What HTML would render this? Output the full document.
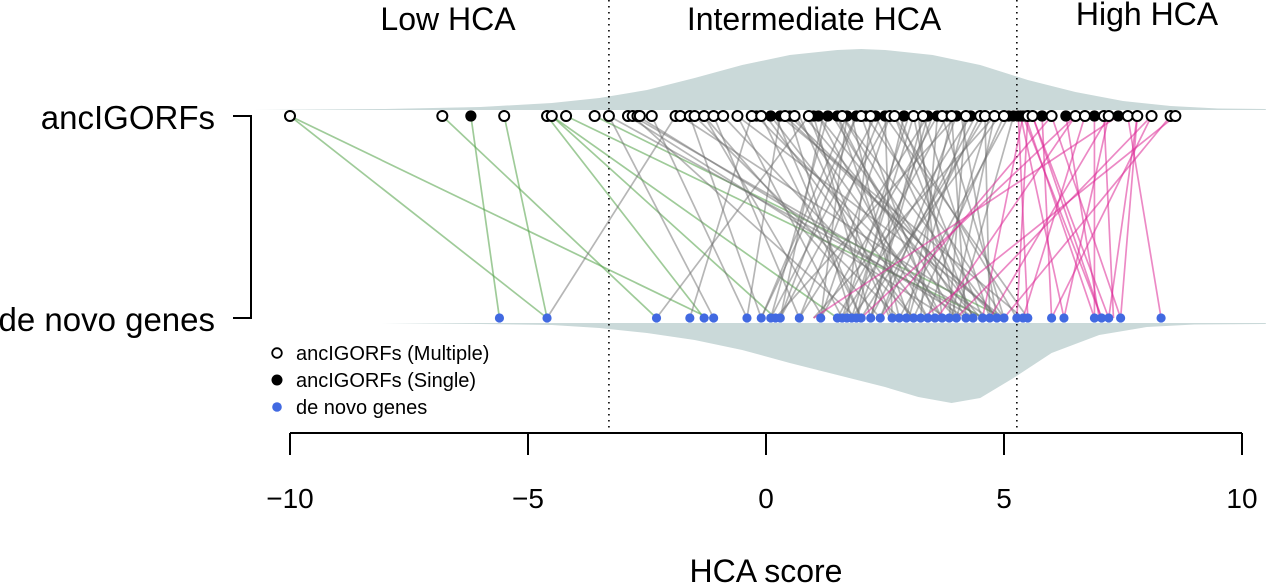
<!DOCTYPE html>
<html><head><meta charset="utf-8">
<style>
html,body{margin:0;padding:0;background:#fff;}
svg{display:block;font-family:"Liberation Sans",Arial,sans-serif;}
</style></head>
<body>
<svg id="chart" width="1280" height="585" viewBox="0 0 1280 585">
<g id="dens"></g>
<g id="links"></g>
<g id="pts"></g>
<g id="axis"></g>
<text x="448" y="30" font-size="32" text-anchor="middle">Low HCA</text>
<text x="814" y="30" font-size="32" text-anchor="middle">Intermediate HCA</text>
<text x="1147" y="25" font-size="32" text-anchor="middle">High HCA</text>
<text x="215" y="129" font-size="33" text-anchor="end">ancIGORFs</text>
<text x="215" y="331" font-size="33" text-anchor="end">de novo genes</text>
<path d="M233,116 H251 V318 H233" fill="none" stroke="#000" stroke-width="2"/>
<g>
<circle cx="277" cy="353" r="4.8" fill="#fff" stroke="#000" stroke-width="1.8"/>
<text x="296" y="360" font-size="20">ancIGORFs (Multiple)</text>
<circle cx="277" cy="380" r="5.5" fill="#000"/>
<text x="296" y="387" font-size="20">ancIGORFs (Single)</text>
<circle cx="277" cy="407" r="4.8" fill="#4169e1"/>
<text x="296" y="414" font-size="20">de novo genes</text>
</g>
<text x="766" y="582" font-size="32" text-anchor="middle">HCA score</text>
</svg>
<script>
const thresholds = [-3.3, 5.27];
const xTicks = [-10, -5, 0, 5, 10];
const topDensX = [-10.8,-8,-6,-4.5,-3.5,-2.5,-1.5,-0.5,0.5,1.5,2,2.5,3.5,4.5,5.5,6.5,7.5,8.5,9.5,10.5];
const topDensH = [0,1,3,7,12,20,32,45,55,60,61,60,55,45,30,18,9,4,1.5,1];
const botDensX = [-8.1,-6,-4.5,-3.5,-2.5,-1.5,-0.5,0.5,1.5,2.5,3.2,3.9,4.5,5.2,6,7,8,9,10.5];
const botDensH = [0,1,2,5,10,17,27,40,52,64,74,80,75,55,30,12,4,1.5,1];
const ancMultiple = [-10,-6.8,-5.5,-4.6,-4.5,-4.2,-3.6,-3.3,-2.9,-2.8,-2.7,-2.65,-2.4,-1.9,-1.8,-1.6,-1.5,-1.3,-1.1,-0.9,-0.6,-0.3,-0.1,0.4,0.6,0.9,1.6,2.0,2.2,2.6,2.7,3.1,3.3,3.7,3.9,4.2,4.5,4.6,4.8,5.0,5.5,5.6,6.0,6.5,6.7,7.1,7.2,7.6,7.8,8.1,8.5,8.6];
const ancSingle = [-6.2,-0.2,0.1,0.3,0.5,1.0,1.1,1.3,1.5,1.7,1.9,2.1,2.3,2.5,2.9,3.4,3.6,3.8,4.0,4.3,5.1,5.2,5.3,5.35,5.4,5.45,5.8,6.3,6.9,7.4];
const denovo = [-5.6,-4.6,-2.3,-1.6,-1.3,-1.1,-0.4,-0.1,0.1,0.2,0.3,0.7,1.15,1.5,1.6,1.7,1.8,1.9,2.0,2.2,2.4,2.65,2.8,2.95,3.1,3.25,3.4,3.55,3.7,3.85,4.0,4.2,4.35,4.55,4.7,4.85,5.0,5.27,5.4,5.5,6.0,6.26,6.9,7.05,7.2,7.45,8.3];
const linkFrom = [-10,-10,-6.8,-6.2,-5.5,-4.6,-4.5,-4.2,-3.6,-3.3,-3.3,-4.5,-2.9,-2.8,-2.7,-2.4,-1.9,-1.8,-1.6,-1.5,-1.3,-1.1,-0.9,-0.6,-0.3,-0.2,-0.1,0.1,0.3,0.4,0.5,0.6,0.9,1.0,1.1,1.3,1.5,1.6,1.7,1.9,2.0,2.1,2.2,2.3,2.5,2.6,2.7,2.9,3.1,3.3,3.4,3.6,3.7,3.8,3.9,4.0,4.2,4.3,4.5,4.6,4.8,5.0,5.1,5.2,-2.8,-1.3,0.3,0.9,1.5,2.3,3.1,3.9,4.6,-0.6,1.1,1.9,2.7,3.4,4.2,0.5,1.7,2.5,3.6,4.8,0.0,0.2,0.8,1.2,1.4,1.8,2.4,2.8,3.0,3.2,3.5,4.1,4.4,4.7,4.9,0.7,1.6,2.6,3.3,4.0,5.3,5.35,5.4,5.45,5.5,5.6,5.8,6.0,6.3,6.5,6.7,6.9,7.1,7.2,7.4,7.6,7.8,8.1,8.5,8.6,5.4,5.6,6.0,6.5,7.2,7.8,8.1];
const linkTo = [-4.6,-1.2,-2.3,-5.6,-4.6,-1.3,0.2,4.6,5.0,4.4,-1.1,1.5,3.8,1.9,4.2,-0.4,-4.6,4.7,-0.1,2.8,2.4,0.7,3.1,1.6,-1.6,4.0,2.0,3.4,-0.4,4.9,1.8,3.7,-2.3,2.2,4.5,0.1,3.0,4.85,1.15,-0.1,3.55,5.0,1.7,4.35,2.65,0.3,5.27,1.9,4.0,2.2,0.7,3.25,5.0,1.5,2.95,0.2,3.85,1.6,2.4,4.7,1.0,3.1,2.8,4.0,4.55,1.2,5.4,2.65,3.7,0.1,1.8,4.2,2.0,5.0,3.4,0.3,4.35,2.2,3.0,4.85,-0.1,5.5,1.15,3.9,3.1,2.0,4.4,0.3,4.0,2.8,0.7,4.55,1.6,3.7,1.9,4.85,2.2,3.4,1.8,2.6,4.2,1.15,4.7,2.4,5.5,6.26,7.05,6.9,5.27,7.2,6.0,7.45,7.0,2.0,5.4,6.9,7.3,4.7,1.0,8.3,7.45,6.0,5.0,3.3,4.55,7.05,2.4,3.6,6.26,7.2,4.0];
const X = v => 766 + v * 47.6;
const Y_TOP = 116, Y_BOT = 318;
const NS = 'http://www.w3.org/2000/svg';
function mk(tag, attrs, parent){const e=document.createElementNS(NS,tag);for(const k in attrs)e.setAttribute(k,attrs[k]);parent.appendChild(e);return e;}
const dens = document.getElementById('dens');
let d = 'M' + X(topDensX[0]) + ',110';
for (let i=0;i<topDensX.length;i++) d += ' L' + X(topDensX[i]).toFixed(1) + ',' + (110 - topDensH[i]);
d += ' L' + X(topDensX[topDensX.length-1]) + ',110 Z';
let p1 = mk('path',{d:d,fill:'#cad9d9'},dens);


d = 'M' + X(botDensX[0]) + ',323';
for (let i=0;i<botDensX.length;i++) d += ' L' + X(botDensX[i]).toFixed(1) + ',' + (323 + botDensH[i]);
d += ' L' + X(botDensX[botDensX.length-1]) + ',323 Z';
let p2 = mk('path',{d:d,fill:'#cad9d9'},dens);


thresholds.forEach(t=>{
  const l = mk('line',{x1:X(t),x2:X(t),y1:0,y2:428,stroke:'#000','stroke-width':1.6,'stroke-dasharray':'1.5,4.5'},dens);
  
  
});
const links = document.getElementById('links');
for (let i=0;i<linkFrom.length;i++){
  const a = linkFrom[i];
  const col = a < thresholds[0] ? 'rgba(80,160,70,0.55)' : (a > thresholds[1] ? 'rgba(220,40,150,0.55)' : 'rgba(110,110,110,0.5)');
  const l = mk('line',{x1:X(a),y1:Y_TOP,x2:X(linkTo[i]),y2:Y_BOT,stroke:col,'stroke-width':1.7},links);
  
  
}
const pts = document.getElementById('pts');
denovo.forEach(v=>{
  const c = mk('circle',{cx:X(v),cy:Y_BOT,r:4.6,fill:'#4169e1'},pts);
  
  
});
ancSingle.forEach(v=>{
  const c = mk('circle',{cx:X(v),cy:Y_TOP,r:5.6,fill:'#000'},pts);
  
  
});
ancMultiple.forEach(v=>{
  const c = mk('circle',{cx:X(v),cy:Y_TOP,r:5,fill:'#fff',stroke:'#000','stroke-width':2},pts);
  
  
});
const ax = document.getElementById('axis');
const al = mk('line',{x1:X(-10),x2:X(10),y1:433,y2:433,stroke:'#000','stroke-width':2},ax);


xTicks.forEach(t=>{
  const tl = mk('line',{x1:X(t),x2:X(t),y1:433,y2:455,stroke:'#000','stroke-width':2},ax);
  
  
  const tx = mk('text',{x:X(t),y:508,'font-size':28,'text-anchor':'middle'},ax);
  tx.textContent = t < 0 ? '\u2212' + Math.abs(t) : String(t);
  
  
});
</script>
</body></html>
